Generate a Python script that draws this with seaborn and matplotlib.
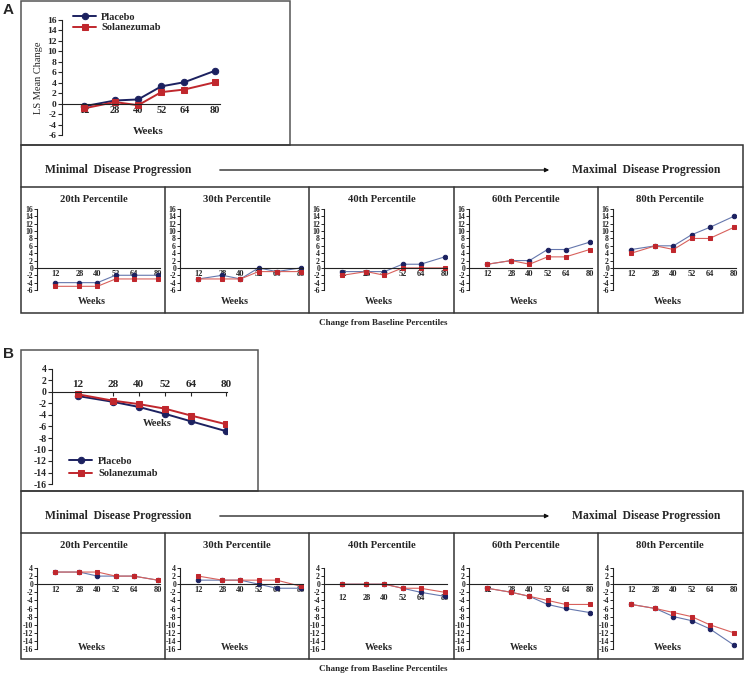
import pandas as pd
import seaborn as sns
import matplotlib.pyplot as plt
from matplotlib.patches import Rectangle, FancyArrowPatch
from matplotlib.lines import Line2D

# --- data ---
weeks = [12, 28, 40, 52, 64, 80]
groups = ["Placebo", "Solanezumab"]
percentiles = ["20th Percentile", "30th Percentile", "40th Percentile",
               "60th Percentile", "80th Percentile"]

# panel A: overall LS mean change
a_placebo = [-0.5, 0.6, 0.8, 3.3, 4.1, 6.3]
a_sola = [-0.9, 0.3, -0.3, 2.2, 2.7, 4.1]
# panel A: change from baseline percentiles
a_pct_placebo = [[-4, -4, -4, -2, -2, -2],
                 [-3, -2, -3, 0, -1, 0],
                 [-1, -1, -1, 1, 1, 3],
                 [1, 2, 2, 5, 5, 7],
                 [5, 6, 6, 9, 11, 14]]
a_pct_sola = [[-5, -5, -5, -3, -3, -3],
              [-3, -3, -3, -1, -1, -1],
              [-2, -1, -2, 0, 0, 0],
              [1, 2, 1, 3, 3, 5],
              [4, 6, 5, 8, 8, 11]]

# panel B: overall LS mean change
b_placebo = [-0.7, -1.7, -2.6, -3.8, -5.1, -6.8]
b_sola = [-0.4, -1.5, -2.1, -2.9, -4.1, -5.6]
# panel B: change from baseline percentiles
b_pct_placebo = [[3, 3, 2, 2, 2, 1],
                 [1, 1, 1, 0, -1, -1],
                 [0, 0, 0, -1, -2, -3],
                 [-1, -2, -3, -5, -6, -7],
                 [-5, -6, -8, -9, -11, -15]]
b_pct_sola = [[3, 3, 3, 2, 2, 1],
              [2, 1, 1, 1, 1, -0.5],
              [0, 0, 0, -1, -1, -2],
              [-1, -2, -3, -4, -5, -5],
              [-5, -6, -7, -8, -10, -12]]

NAVY = "#1c2160"
RED = "#c0272d"
NAVY_LIGHT = "#6577ad"
RED_LIGHT = "#d8615c"
EDGE = "#333333"

sns.set_theme(style="white")
plt.rcParams["font.family"] = ["Liberation Serif", "DejaVu Serif"]
plt.rcParams["font.weight"] = "bold"
plt.rcParams["axes.unicode_minus"] = False

W, H = 744, 676
fig = plt.figure(figsize=(W / 100, H / 100), dpi=100)


def fx(x):
    return x / W


def fy(y):
    return 1 - y / H


def rect(x0, y0, x1, y1):
    return [x0 / W, 1 - y1 / H, (x1 - x0) / W, (y1 - y0) / H]


def box(x0, y0, x1, y1, color=EDGE, lw=1.1):
    fig.add_artist(Rectangle((fx(x0), fy(y1)), (x1 - x0) / W, (y1 - y0) / H,
                             transform=fig.transFigure, fill=False, ec=color, lw=lw))


def hline(x0, x1, y, lw=1.1):
    fig.add_artist(Line2D([fx(x0), fx(x1)], [fy(y), fy(y)], transform=fig.transFigure,
                          color=EDGE, lw=lw))


def vline(x, y0, y1, lw=1.1):
    fig.add_artist(Line2D([fx(x), fx(x)], [fy(y0), fy(y1)], transform=fig.transFigure,
                          color=EDGE, lw=lw))


def draw_lines(ax, placebo, sola, big, legend=False):
    df = pd.DataFrame({"week": weeks * 2,
                       "change": placebo + sola,
                       "group": [groups[0]] * len(weeks) + [groups[1]] * len(weeks)})
    if big:
        pal = {groups[0]: NAVY, groups[1]: RED}
        lw, ms = 1.4, 4.6
    else:
        pal = {groups[0]: NAVY_LIGHT, groups[1]: RED_LIGHT}
        lw, ms = 0.8, 3.2
    sns.lineplot(data=df, x="week", y="change", hue="group", style="group",
                 markers={groups[0]: "o", groups[1]: "s"}, dashes=False,
                 palette=pal, linewidth=lw, markersize=ms, ax=ax, legend=legend)
    dark = [NAVY, RED]
    for i, ln in enumerate(ax.lines[:2]):
        c = dark[i] if not big else ln.get_color()
        ln.set_markerfacecolor(c)
        ln.set_markeredgecolor(c)
    if legend:
        for h in ax.get_legend().legend_handles:
            h.set_markeredgecolor(h.get_color())
            h.set_markerfacecolor(h.get_color())
    ax.set_xlabel("")
    ax.set_ylabel("")
    ax.set_xticks(weeks)
    ax.set_facecolor("none")
    for s in ["top", "right", "bottom", "left"]:
        ax.spines[s].set_color("#222222")
        ax.spines[s].set_linewidth(0.8)


# ================= Panel A =================
fig.text(fx(3), fy(10), "A", family="Liberation Sans", weight="bold", fontsize=11,
         va="center", ha="left")
box(21, 1, 290, 145, color="#555555")

ax = fig.add_axes(rect(62, 20, 220, 135))
draw_lines(ax, a_placebo, a_sola, big=True, legend=True)
ax.set_xlim(0.5, 82.5)
ax.set_ylim(-6, 16)
ax.set_yticks(range(-6, 17, 2))
ax.spines["top"].set_visible(False)
ax.spines["right"].set_visible(False)
ax.spines["bottom"].set_position(("data", 0))
ax.tick_params(axis="y", labelsize=6.8, length=3, width=0.8, pad=1, left=True)
ax.tick_params(axis="x", labelsize=7.5, length=0, pad=2)
ax.set_ylabel("LS Mean Change", fontsize=7.5, labelpad=3)
fig.text(fx(148), fy(131), "Weeks", fontsize=8, ha="center", va="center")
sns.move_legend(ax, "upper left", bbox_to_anchor=(fx(68), fy(7)),
                bbox_transform=fig.transFigure, title=None, frameon=False,
                fontsize=7.5, handlelength=2.2, handletextpad=0.5, labelspacing=0.15,
                borderpad=0)

panel_x = [22, 165, 309, 454, 598, 742]


def percentile_block(top, pct_placebo, pct_sola, ylo, yhi, ystep, ax_top, ax_bot,
                     label_pads):
    # outer frame, header row and column dividers
    box(21, top, 743, top + 168)
    hline(21, 743, top + 42)
    for x in panel_x[1:-1]:
        vline(x, top + 42, top + 168)
    fig.text(fx(45), fy(top + 25), "Minimal  Disease Progression", fontsize=8.4,
             ha="left", va="center")
    fig.text(fx(720), fy(top + 25), "Maximal  Disease Progression", fontsize=8.4,
             ha="right", va="center")
    fig.add_artist(FancyArrowPatch((fx(217), fy(top + 25)), (fx(552), fy(top + 25)),
                                   transform=fig.transFigure, arrowstyle="-|>",
                                   mutation_scale=6, lw=0.9, color="#111111"))
    for i, name in enumerate(percentiles):
        x0 = panel_x[i]
        xm = (panel_x[i] + panel_x[i + 1]) / 2
        fig.text(fx(xm), fy(top + 55), name, fontsize=7.7, ha="center", va="center")
        ax = fig.add_axes(rect(x0 + 14.5, ax_top, x0 + 138, ax_bot))
        draw_lines(ax, pct_placebo[i], pct_sola[i], big=False)
        ax.set_xlim(-0.5, 81.5)
        ax.set_ylim(ylo, yhi)
        ax.set_yticks(range(ylo, yhi + 1, ystep))
        ax.spines["top"].set_visible(False)
        ax.spines["right"].set_visible(False)
        ax.spines["bottom"].set_position(("data", 0))
        ax.tick_params(axis="y", labelsize=5.6, length=2, width=0.7, pad=0.5, left=True)
        ax.tick_params(axis="x", labelsize=6, length=0, pad=label_pads[i])
        fig.text(fx(x0 + 70), fy(top + 156), "Weeks", fontsize=7.2, ha="center",
                 va="center")
    fig.text(fx(383), fy(top + 178), "Change from Baseline Percentiles", fontsize=6.5,
             ha="center", va="center")


percentile_block(145, a_pct_placebo, a_pct_sola, -6, 16, 2, 209, 290,
                 [1.5, 1.5, 1.5, 1.5, 1.5])

# ================= Panel B =================
fig.text(fx(3), fy(354), "B", family="Liberation Sans", weight="bold", fontsize=11,
         va="center", ha="left")
box(21, 350, 258, 491, color="#555555")

ax = fig.add_axes(rect(52, 369, 227, 484))
draw_lines(ax, b_placebo, b_sola, big=True, legend=True)
ax.set_xlim(0.1, 80.5)
ax.set_ylim(-16, 4)
ax.set_yticks(range(-16, 5, 2))
ax.spines["bottom"].set_visible(False)
ax.spines["right"].set_visible(False)
ax.spines["top"].set_position(("data", 0))
ax.tick_params(axis="x", top=True, bottom=False, labeltop=True, labelbottom=False,
               labelsize=8, length=3, width=0.8, pad=2, direction="in")
ax.tick_params(axis="y", labelsize=7, length=3, width=0.8, pad=1, left=True)
fig.text(fx(157), fy(424), "Weeks", fontsize=7.5, ha="center", va="center")
sns.move_legend(ax, "upper left", bbox_to_anchor=(fx(64), fy(451)),
                bbox_transform=fig.transFigure, title=None, frameon=False,
                fontsize=7.5, handlelength=2.2, handletextpad=0.6, labelspacing=0.35,
                borderpad=0)

percentile_block(491, b_pct_placebo, b_pct_sola, -16, 4, 2, 568, 649,
                 [1.5, 1.5, 7, 1.5, 1.5])

fig.savefig("out.png", dpi=100)
